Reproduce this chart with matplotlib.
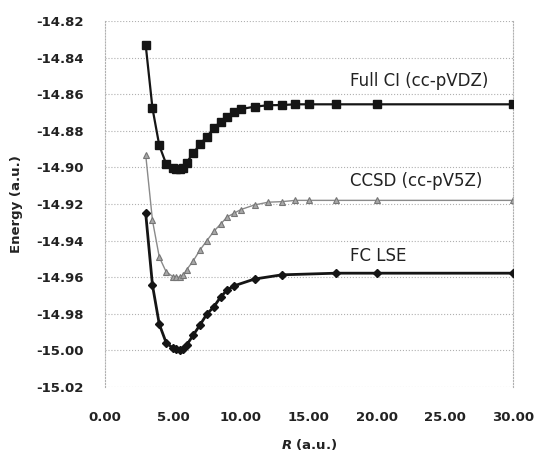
import numpy as np
import matplotlib
matplotlib.use("Agg")
import matplotlib.pyplot as plt

# distancia internuclear R (a.u.)
r_fci = [3.0, 3.5, 4.0, 4.5, 5.0, 5.25, 5.5, 5.75, 6.0, 6.5, 7.0, 7.5, 8.0, 8.5,
         9.0, 9.5, 10.0, 11.0, 12.0, 13.0, 14.0, 15.0, 17.0, 20.0, 30.0]
e_fci = [-14.833, -14.8677, -14.888, -14.898, -14.9005, -14.901, -14.901, -14.9003,
         -14.8974, -14.8922, -14.8872, -14.8832, -14.8786, -14.875, -14.8723, -14.8699,
         -14.8681, -14.8668, -14.866, -14.8659, -14.8655, -14.8655, -14.8655, -14.8655,
         -14.8655]

r_ccsd = r_fci
e_ccsd = [-14.893, -14.929, -14.949, -14.957, -14.9597, -14.960, -14.960, -14.959,
          -14.956, -14.951, -14.945, -14.940, -14.935, -14.931, -14.927, -14.925,
          -14.923, -14.9205, -14.919, -14.9187, -14.918, -14.918, -14.918, -14.918,
          -14.918]

r_lse = [3.0, 3.5, 4.0, 4.5, 5.0, 5.25, 5.5, 5.75, 6.0, 6.5, 7.0, 7.5, 8.0, 8.5,
         9.0, 9.5, 11.0, 13.0, 17.0, 20.0, 30.0]
e_lse = [-14.925, -14.9644, -14.9857, -14.9957, -14.9988, -14.9995, -14.9996, -14.9993,
         -14.9972, -14.9916, -14.986, -14.9801, -14.9763, -14.9709, -14.9669, -14.9647,
         -14.961, -14.9587, -14.9578, -14.9578, -14.9578]

etiquetas = ["Full CI (cc-pVDZ)", "CCSD (cc-pV5Z)", "FC LSE"]
pos_etiquetas = [(18.0, -14.8528), (18.0, -14.9074), (18.0, -14.9483)]

xticks = [0, 5, 10, 15, 20, 25, 30]
yticks = np.round(np.arange(-15.02, -14.819, 0.02), 2)

fig = plt.figure(figsize=(5.35, 4.54), dpi=100)
ax = fig.add_axes([0.196, 0.1476, 0.763, 0.806])

ax.plot(r_fci, e_fci, color="#151515", lw=1.6, marker="s", ms=6.2, zorder=3)
ax.plot(r_ccsd, e_ccsd, color="#8a8a8a", lw=1.0, marker="^", ms=4.5,
        mfc="#a8a8a8", mec="#767676", mew=0.8, zorder=2)
ax.plot(r_lse, e_lse, color="#151515", lw=2.0, marker="D", ms=4.3, zorder=3)

for txt, (x, y) in zip(etiquetas, pos_etiquetas):
    ax.text(x, y, txt, fontsize=12, color="#222222", va="center", ha="left")

ax.set_xlim(0, 30)
ax.set_ylim(-15.02, -14.82)
ax.set_xticks(xticks)
ax.set_yticks(yticks)
ax.set_xticklabels([f"{v:.2f}" for v in xticks], fontweight="bold", fontsize=9.5,
                   color="#222222")
ax.set_yticklabels([f"{v:.2f}" for v in yticks], fontweight="bold", fontsize=9.5,
                   color="#222222")
ax.tick_params(axis="both", length=0)
ax.tick_params(axis="y", pad=15)
ax.tick_params(axis="x", pad=17)

ax.grid(axis="y", linestyle=":", color="#b0b0b0", lw=0.8)
for lado in ["left", "right"]:
    ax.spines[lado].set_linestyle(":")
    ax.spines[lado].set_color("#b0b0b0")
    ax.spines[lado].set_linewidth(0.8)
for lado in ["top", "bottom"]:
    ax.spines[lado].set_visible(False)

ax.set_ylabel("Energy (a.u.)", fontweight="bold", fontsize=9.5, labelpad=10,
              color="#222222")
ax.set_xlabel(r"$\boldsymbol{R}$ (a.u.)", fontweight="bold", fontsize=9.5,
              labelpad=10, color="#222222")

fig.savefig("out.png", dpi=100)
